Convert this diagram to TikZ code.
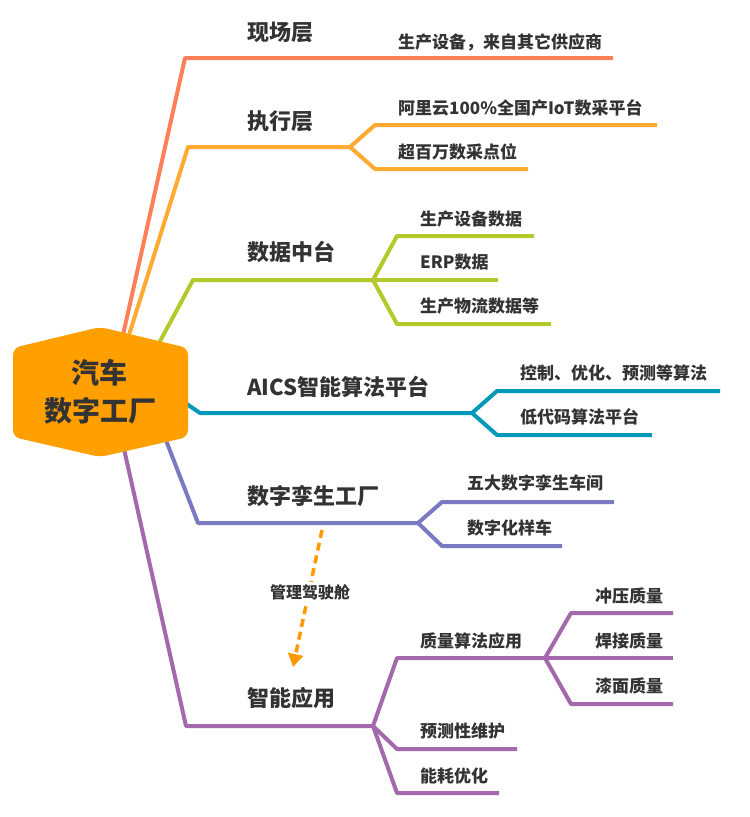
\documentclass[tikz,border=0pt]{standalone}
\usepackage{fontspec}
\setmainfont{Noto Sans CJK SC}
\usetikzlibrary{arrows.meta}
\definecolor{txt}{HTML}{333333}
\definecolor{hexfill}{HTML}{FF9F00}
\definecolor{xianchang}{HTML}{FF8058}
\definecolor{zhixing}{HTML}{FFAA33}
\definecolor{shuju}{HTML}{B5C92D}
\definecolor{suanfa}{HTML}{0099B7}
\definecolor{luansheng}{HTML}{7B79C1}
\definecolor{yingyong}{HTML}{A468AD}
\definecolor{jiashi}{HTML}{FF9900}

\begin{document}
\begin{tikzpicture}[x=1pt,y=-1pt,
  branch/.style={line width=4pt,line join=round},
  toplabel/.style={anchor=west,inner sep=0pt,text=txt,font=\fontsize{22}{26}\selectfont\bfseries},
  leaflabel/.style={anchor=west,inner sep=0pt,text=txt,font=\fontsize{17}{20}\selectfont\bfseries}]
  \useasboundingbox (0,0) rectangle (750,817);

  % 现场层
  \coordinate (s1) at (123,335); \coordinate (e1) at (185,58); \coordinate (t1) at (613,58);
  \draw[branch,xianchang] (s1) -- (e1) -- (t1);
  \node[toplabel] (xc) at (247,32) {现场层};
  \node[leaflabel] (xc1) at (398,42) {生产设备，来自其它供应商};

  % 执行层
  \coordinate (s2) at (129,335); \coordinate (e2) at (188,147); \coordinate (k2) at (350,147);
  \coordinate (a21) at (375,125); \coordinate (t21) at (657,125);
  \coordinate (a22) at (375,169); \coordinate (t22) at (528,169);
  \draw[branch,zhixing] (s2) -- (e2) -- (k2) -- (a21) -- (t21);
  \draw[branch,zhixing] (k2) -- (a22) -- (t22);
  \node[toplabel] (zx) at (247,121) {执行层};
  \node[leaflabel] (zx1) at (398,108) {阿里云100\%全国产IoT数采平台};
  \node[leaflabel] (zx2) at (398,152) {超百万数采点位};

  % 数据中台
  \coordinate (s3) at (158,345); \coordinate (e3) at (193,280); \coordinate (k3) at (373,280);
  \coordinate (a31) at (397,236); \coordinate (t31) at (534,236);
  \coordinate (t32) at (498,280);
  \coordinate (a33) at (397,324); \coordinate (t33) at (551,324);
  \draw[branch,shuju] (s3) -- (e3) -- (k3) -- (a31) -- (t31);
  \draw[branch,shuju] (k3) -- (t32);
  \draw[branch,shuju] (k3) -- (a33) -- (t33);
  \node[toplabel] (sj) at (247,252) {数据中台};
  \node[leaflabel] (sj1) at (420,219) {生产设备数据};
  \node[leaflabel] (sj2) at (420,262) {ERP数据};
  \node[leaflabel] (sj3) at (420,306) {生产物流数据等};

  % AICS
  \coordinate (s4) at (178,398); \coordinate (e4) at (200,413); \coordinate (k4) at (472,413);
  \coordinate (a41) at (497,391); \coordinate (t41) at (720,391);
  \coordinate (a42) at (497,435); \coordinate (t42) at (652,435);
  \draw[branch,suanfa] (s4) -- (e4) -- (k4) -- (a41) -- (t41);
  \draw[branch,suanfa] (k4) -- (a42) -- (t42);
  \node[toplabel] (sf) at (247,387) {AICS智能算法平台};
  \node[leaflabel] (sf1) at (520,373) {控制、优化、预测等算法};
  \node[leaflabel] (sf2) at (520,417) {低代码算法平台};

  % 数字孪生工厂
  \coordinate (s5) at (162,430); \coordinate (e5) at (198,523); \coordinate (k5) at (418,523);
  \coordinate (a51) at (442,502); \coordinate (t51) at (614,502);
  \coordinate (a52) at (442,546); \coordinate (t52) at (562,546);
  \draw[branch,luansheng] (s5) -- (e5) -- (k5) -- (a51) -- (t51);
  \draw[branch,luansheng] (k5) -- (a52) -- (t52);
  \node[toplabel] (ls) at (247,496) {数字孪生工厂};
  \node[leaflabel] (ls1) at (467,483) {五大数字孪生车间};
  \node[leaflabel] (ls2) at (467,528) {数字化样车};

  % 智能应用
  \coordinate (s6) at (122,440); \coordinate (e6) at (186,726); \coordinate (k6) at (373,726);
  \coordinate (a61) at (397,658); \coordinate (q6) at (545,658);
  \coordinate (b61) at (571,613); \coordinate (u61) at (673,613);
  \coordinate (u62) at (673,658);
  \coordinate (b63) at (571,704); \coordinate (u63) at (673,704);
  \coordinate (a62) at (397,749); \coordinate (t62) at (517,749);
  \coordinate (a63) at (397,793); \coordinate (t63) at (499,793);
  \draw[branch,yingyong] (s6) -- (e6) -- (k6) -- (a61) -- (q6) -- (b61) -- (u61);
  \draw[branch,yingyong] (q6) -- (u62);
  \draw[branch,yingyong] (q6) -- (b63) -- (u63);
  \draw[branch,yingyong] (k6) -- (a62) -- (t62);
  \draw[branch,yingyong] (k6) -- (a63) -- (t63);
  \node[toplabel] (yy) at (247,698) {智能应用};
  \node[leaflabel] (yy1) at (420,641) {质量算法应用};
  \node[leaflabel] (yy11) at (595,596) {冲压质量};
  \node[leaflabel] (yy12) at (595,641) {焊接质量};
  \node[leaflabel] (yy13) at (595,686) {漆面质量};
  \node[leaflabel] (yy2) at (420,731) {预测性维护};
  \node[leaflabel] (yy3) at (420,776) {能耗优化};

  % 管理驾驶舱
  \coordinate (d0) at (322,530); \coordinate (d1) at (293,667);
  \draw[jiashi,line width=3.5pt,dash pattern=on 8pt off 5pt,-{Triangle[width=15pt,length=13pt]}] (d0) -- (d1);
  \node[fill=white,inner sep=2pt,text=txt,font=\fontsize{16}{18}\selectfont\bfseries] (jsc) at (310,592) {管理驾驶舱};

  \fill[hexfill,rounded corners=7pt] (100,327) -- (188,348) -- (188,437) -- (100,457) -- (13,437) -- (13,348) -- cycle;
  \node[align=center,text=txt,font=\fontsize{28}{38}\selectfont\bfseries] (root) at (100,392) {汽车\\数字工厂};
\end{tikzpicture}
\end{document}
